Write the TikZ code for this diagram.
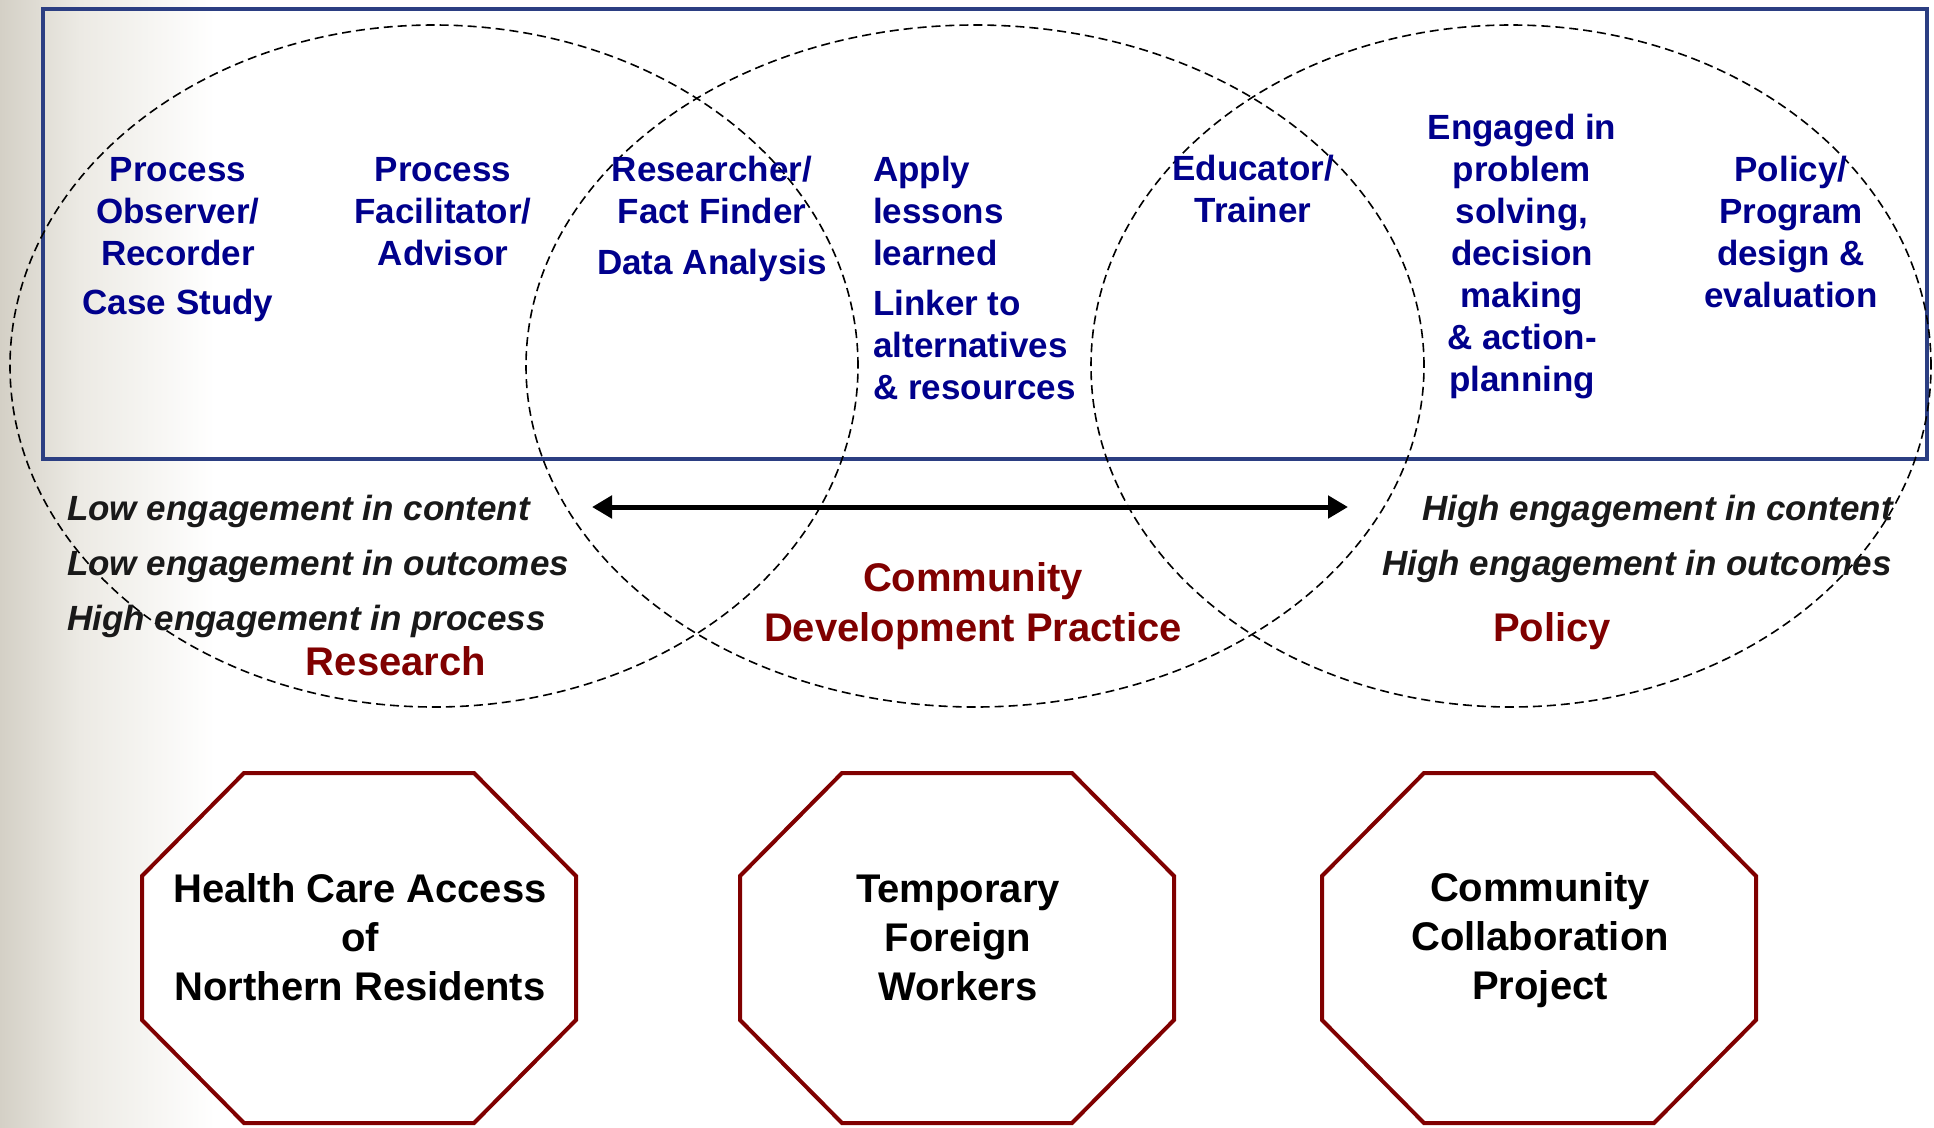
\documentclass[tikz,border=0pt]{standalone}
\usepackage{fontspec}
\setmainfont{Liberation Sans}
\usetikzlibrary{arrows.meta}
\definecolor{navytxt}{RGB}{0,0,140}
\definecolor{darkred}{RGB}{128,0,0}
\definecolor{rectblue}{RGB}{43,62,130}
\definecolor{bggray}{RGB}{212,208,198}
\definecolor{bgmid}{RGB}{236,234,228}
\definecolor{itblack}{RGB}{25,25,25}
\begin{document}
\begin{tikzpicture}[x=1pt,y=-1pt,
  bluetxt/.style={text=navytxt,font=\fontsize{35}{42}\selectfont\bfseries,align=center,inner sep=0pt},
  bluetxtl/.style={bluetxt,align=left},
  itxt/.style={text=itblack,font=\fontsize{35}{42}\selectfont\bfseries\itshape,inner sep=0pt},
  redlbl/.style={text=darkred,font=\fontsize{40}{50}\selectfont\bfseries,align=center,inner sep=0pt},
  octtxt/.style={text=black,font=\fontsize{40}{49}\selectfont\bfseries,align=center,inner sep=0pt},
  octline/.style={draw=darkred,line width=4pt,fill=white,line join=miter},
  ell/.style={draw=black,line width=1.6pt,dash pattern=on 9pt off 5pt},
  dblarrow/.style={line width=5pt,{Triangle[length=20pt,width=22pt]}-{Triangle[length=20pt,width=22pt]}}
]
\useasboundingbox (0,0) rectangle (1934,1127);
\fill[white] (0,0) rectangle (1934,1127);
\shade[left color=bggray,right color=bgmid] (0,0) rectangle (80,1127);
\shade[left color=bgmid,right color=white] (80,0) rectangle (215,1127);
% blue frame
\draw[rectblue,line width=4pt] (43,9) rectangle (1927,459);
% ellipses
\coordinate (e1) at (434,366);
\coordinate (e2) at (975,366);
\coordinate (e3) at (1511,366);
\draw[ell] (e1) ellipse [x radius=424pt,y radius=341pt];
\draw[ell] (e2) ellipse [x radius=449pt,y radius=341pt];
\draw[ell] (e3) ellipse [x radius=420pt,y radius=341pt];
% arrow
\coordinate (aL) at (592,507);
\coordinate (aR) at (1348,507);
\draw[dblarrow] (aL) -- (aR);
% top texts
\node[bluetxt] (t1) at (178,240) {Process\\Observer/\\Recorder\\[7pt]Case Study};
\node[bluetxt] (t2) at (443,212) {Process\\Facilitator/\\Advisor};
\node[bluetxt] (t3) at (712,219) {Researcher/\\Fact Finder\\[9pt]Data Analysis};
\node[bluetxtl,anchor=west] (t4) at (873,278) {Apply\\lessons\\learned\\[8pt]Linker to\\alternatives\\\& resources};
\node[bluetxt] (t5) at (1253,189) {Educator/\\Trainer};
\node[bluetxt] (t6) at (1522,257) {Engaged in\\problem\\solving,\\decision\\making\\\& action-\\planning};
\node[bluetxt] (t7) at (1791,232) {Policy/\\Program\\design \&\\evaluation};
% italic texts
\node[itxt,anchor=west] (l1) at (67,511) {Low engagement in content};
\node[itxt,anchor=west] (l2) at (67,566) {Low engagement in outcomes};
\node[itxt,anchor=west] (l3) at (67,621) {High engagement in process};
\node[itxt,anchor=east] (r1) at (1893,511) {High engagement in content};
\node[itxt,anchor=east] (r2) at (1892,566) {High engagement in outcomes};
% red labels
\node[redlbl] (research) at (396,661) {Research};
\node[redlbl] (cdp) at (973,606) {Community\\Development Practice};
\node[redlbl] (policy) at (1552,631) {Policy};
% octagons
\coordinate (o1) at (359,948);
\coordinate (o2) at (957,948);
\coordinate (o3) at (1539,948);
\foreach \c in {o1,o2,o3}{
  \draw[octline,shift={(\c)}] (-115,-175) -- (115,-175) -- (217,-72) -- (217,72) -- (115,175) -- (-115,175) -- (-217,72) -- (-217,-72) -- cycle;
}
\node[octtxt] (p1) at (360,937) {Health Care Access\\of\\Northern Residents};
\node[octtxt] (p2) at (958,938) {Temporary\\Foreign\\Workers};
\node[octtxt] (p3) at (1540,940) {Community\\Collaboration\\Project};
\end{tikzpicture}
\end{document}
